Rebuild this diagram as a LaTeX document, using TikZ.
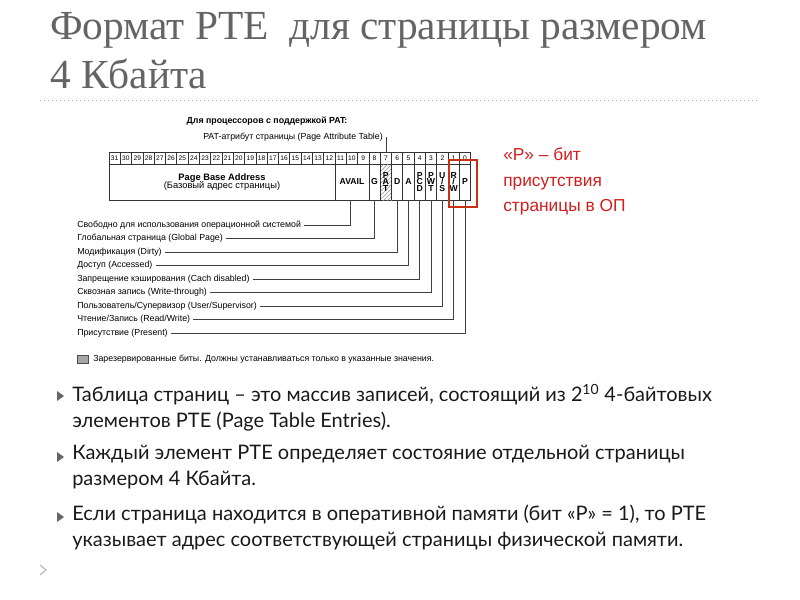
\documentclass[tikz,border=0pt]{standalone}
\usepackage{fontspec}
\setmainfont{Liberation Serif}
\newfontfamily\bodyfont{Lato}
\newfontfamily\figfont{Liberation Sans}
\usetikzlibrary{patterns}
\definecolor{titlegray}{RGB}{100,100,100}
\definecolor{redbox}{RGB}{200,50,20}
\definecolor{redtext}{RGB}{210,30,30}
\tikzset{
 lbl/.style={font=\figfont\fontsize{6.6}{7}\selectfont, anchor=west, inner sep=0pt},
 leader/.style={draw=black!75, line width=0.6pt},
 cellbox/.style={draw=black!80, line width=0.5pt},
 bullettxt/.style={font=\bodyfont\fontsize{15}{19.5}\selectfont, anchor=north west, align=left, inner sep=0pt, text=black!90},
 bulletmark/.style={fill=black!60, draw=none}
}
\begin{document}
\begin{tikzpicture}[x=0.75pt,y=-0.75pt]
\useasboundingbox (0,0) rectangle (800,600);
% title
\node[anchor=north west, inner sep=0pt, align=left, text=titlegray, font=\fontsize{31}{37}\selectfont] (title) at (50,12) {Формат PTE\ \ для страницы размером\\4 Кбайта};
\draw[black!35, dash pattern=on 1pt off 2pt] (40,100) -- (760,100);
% heading
\node[font=\figfont\bfseries\fontsize{6.6}{7}\selectfont, inner sep=0pt] (head) at (267,121) {Для процессоров с поддержкой PAT:};
\node[lbl] (patl) at (203,137) {PAT-атрибут страницы (Page Attribute Table)};
\coordinate (patc) at (386.4,152);
\draw[leader] (patl.east) ++(3,0) -| (patc);
% bit cells
\foreach \b in {0,...,31}{
  \pgfmathsetmacro{\xl}{109+(31-\b)*11.3}
  \draw[cellbox] (\xl,152) rectangle ++(11.3,12);
  \node[font=\figfont\fontsize{5}{5}\selectfont, inner sep=0pt] at (\xl+5.65,158) {\b};
}
% main box
\draw[cellbox] (109,164) rectangle (470.6,200);
\fill[pattern=north east lines, pattern color=black!40] (380.9,164) rectangle (392.2,200);
\foreach \b in {12,9,8,7,6,5,4,3,2,1}{
  \pgfmathsetmacro{\xl}{109+(32-\b)*11.3}
  \draw[cellbox] (\xl,164) -- (\xl,200);
}
\node[font=\figfont\bfseries\fontsize{7}{7.5}\selectfont, align=center, inner sep=0pt] (pba) at (222,182) {Page Base Address\\[-1pt]\mdseries(Базовый адрес страницы)};
\node[font=\figfont\bfseries\fontsize{6.5}{7}\selectfont, inner sep=0pt] (avail) at (352,182) {AVAIL};
\foreach \b/\t in {8/G,7/{P\\[-2pt]A\\[-2pt]T},6/D,5/A,4/{P\\[-2pt]C\\[-2pt]D},3/{P\\[-2pt]W\\[-2pt]T},2/{U\\[-2pt]/\\[-2pt]S},1/{R\\[-2pt]/\\[-2pt]W},0/P}{
  \node[font=\figfont\bfseries\fontsize{6.5}{7}\selectfont, align=center, inner sep=0pt] at (109+31.5*11.3-\b*11.3,182) {\t};
}
% leader labels
\foreach \i/\xb/\t in {
 1/350/{Свободно для использования операционной системой},
 2/374.5/{Глобальная страница (Global Page)},
 3/397.1/{Модификация (Dirty)},
 4/408.4/{Доступ (Accessed)},
 5/419.7/{Запрещение кэширования (Cach disabled)},
 6/431/{Сквозная запись (Write-through)},
 7/442.3/{Пользователь/Супервизор (User/Supervisor)},
 8/453.6/{Чтение/Запись (Read/Write)},
 9/464.9/{Присутствие (Present)}}{
  \pgfmathsetmacro{\yy}{225+(\i-1)*13.5}
  \node[lbl] (l\i) at (77,\yy) {\t};
  \coordinate (c\i) at (\xb,200);
  \draw[leader] (l\i.east) ++(3,0) -| (c\i);
}
% legend
\draw[fill=black!35, draw=black!70] (77,355) rectangle (88,363);
\node[lbl] (leg) at (93,359) {Зарезервированные биты. Должны устанавливаться только в указанные значения.};
% red annotation
\draw[redbox, line width=1.8pt] (449,160) rectangle (477,207);
\node[anchor=north west, inner sep=0pt, align=left, text=redtext, font=\figfont\fontsize{13}{18.8}\selectfont] (ptxt) at (503,148) {«P» – бит\\присутствия\\страницы в ОП};
% bullets
\foreach \y in {396,457,517}{
  \fill[bulletmark] (57,\y-5) -- (64,\y) -- (57,\y+5) -- cycle;
}
\node[bullettxt] (b1) at (72,384) {Таблица страниц – это массив записей, состоящий из 2\textsuperscript{10} 4-байтовых\\элементов PTE (Page Table Entries).};
\node[bullettxt] (b2) at (72,445) {Каждый элемент PTE определяет состояние отдельной страницы\\размером 4 Кбайта.};
\node[bullettxt] (b3) at (72,505) {Если страница находится в оперативной памяти (бит «P» = 1), то PTE\\указывает адрес соответствующей страницы физической памяти.};
% corner mark
\draw[black!30, line width=0.8pt] (40,565) -- (46,570) -- (40,575);
\end{tikzpicture}
\end{document}
